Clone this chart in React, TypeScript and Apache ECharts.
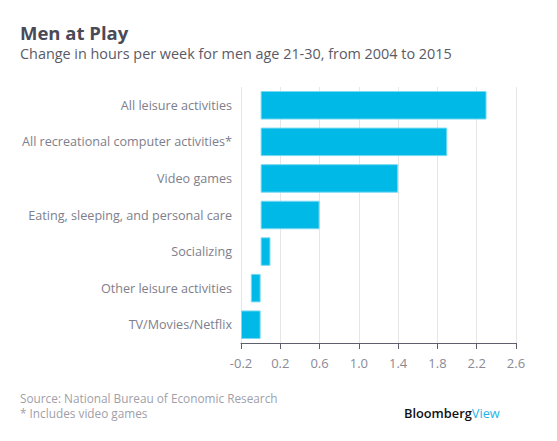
import React, { useEffect, useRef } from "react";
import * as echarts from "echarts";

const categories = [
  "All leisure activities",
  "All recreational computer activities*",
  "Video games",
  "Eating, sleeping, and personal care",
  "Socializing",
  "Other leisure activities",
  "TV/Movies/Netflix",
];
const values = [2.3, 1.9, 1.4, 0.6, 0.1, -0.1, -0.2];
const tickLabels = [-0.2, 0.2, 0.6, 1.0, 1.4, 1.8, 2.2, 2.6];

const title = "Men at Play";
const subtitle = "Change in hours per week for men age 21-30, from 2004 to 2015";
const source = "Source: National Bureau of Economic Research";
const note = "* Includes video games";

const FONT = "'Open Sans', 'Noto Sans', sans-serif";

export default function App() {
  const ref = useRef<HTMLDivElement>(null);
  useEffect(() => {
    if (!ref.current) return;
    const chart = echarts.init(ref.current, undefined, { renderer: "svg" });
    chart.setOption({
      animation: false,
      backgroundColor: "#ffffff",
      textStyle: { fontFamily: FONT },
      grid: { left: 241, right: 41, top: 87, bottom: 98, containLabel: false },
      xAxis: {
        type: "value",
        min: -0.2,
        max: 2.6,
        interval: 0.2,
        axisLine: { show: true, lineStyle: { color: "#5f5f6b", width: 1 } },
        axisTick: {
          show: true,
          length: 6,
          customValues: tickLabels,
          lineStyle: { color: "#5f5f6b" },
        },
        axisLabel: {
          customValues: tickLabels,
          formatter: (v: number) => v.toFixed(1),
          color: "#8a8a96",
          fontSize: 13,
          fontFamily: FONT,
          margin: 13,
        },
        splitLine: { show: true, lineStyle: { color: "#e6e6e6", width: 1 } },
      },
      yAxis: {
        type: "category",
        data: categories,
        inverse: true,
        axisLine: { show: false },
        axisTick: { show: false },
        axisLabel: {
          color: "#7e7e8c",
          fontSize: 12.6,
          fontFamily: FONT,
          margin: 9,
        },
      },
      series: [
        {
          type: "bar",
          data: values,
          barCategoryGap: "22%",
          itemStyle: {
            color: "#00b9e6",
            borderColor: "#7ad9f2",
            borderWidth: 1,
          },
        },
      ],
      graphic: [
        {
          type: "text",
          left: 20,
          top: 22,
          style: {
            text: title,
            font: `bold 18.5px ${FONT}`,
            lineHeight: 20,
            fill: "#4a4a57",
          },
        },
        {
          type: "text",
          left: 20,
          top: 45,
          style: {
            text: subtitle,
            font: `14.4px ${FONT}`,
            lineHeight: 17,
            fill: "#5a5a66",
          },
        },
        {
          type: "text",
          left: 20,
          top: 391,
          style: {
            text: source,
            font: `11.8px ${FONT}`,
            lineHeight: 14,
            fill: "#a0a0a8",
          },
        },
        {
          type: "text",
          left: 20,
          top: 406,
          style: {
            text: note,
            font: `11.8px ${FONT}`,
            lineHeight: 14,
            fill: "#a0a0a8",
          },
        },
        {
          type: "text",
          left: 404,
          top: 406,
          style: {
            text: "{b|Bloomberg}{v|View}",
            rich: {
              b: { font: `600 12.8px ${FONT}`, fill: "#111111", lineHeight: 16 },
              v: { font: `12.8px ${FONT}`, fill: "#1fb3e8", lineHeight: 16 },
            },
          },
        },
      ],
    });
    return () => chart.dispose();
  }, []);
  return (
    <div
      ref={ref}
      style={{ position: "fixed", left: 0, top: 0, width: 557, height: 441 }}
    />
  );
}
